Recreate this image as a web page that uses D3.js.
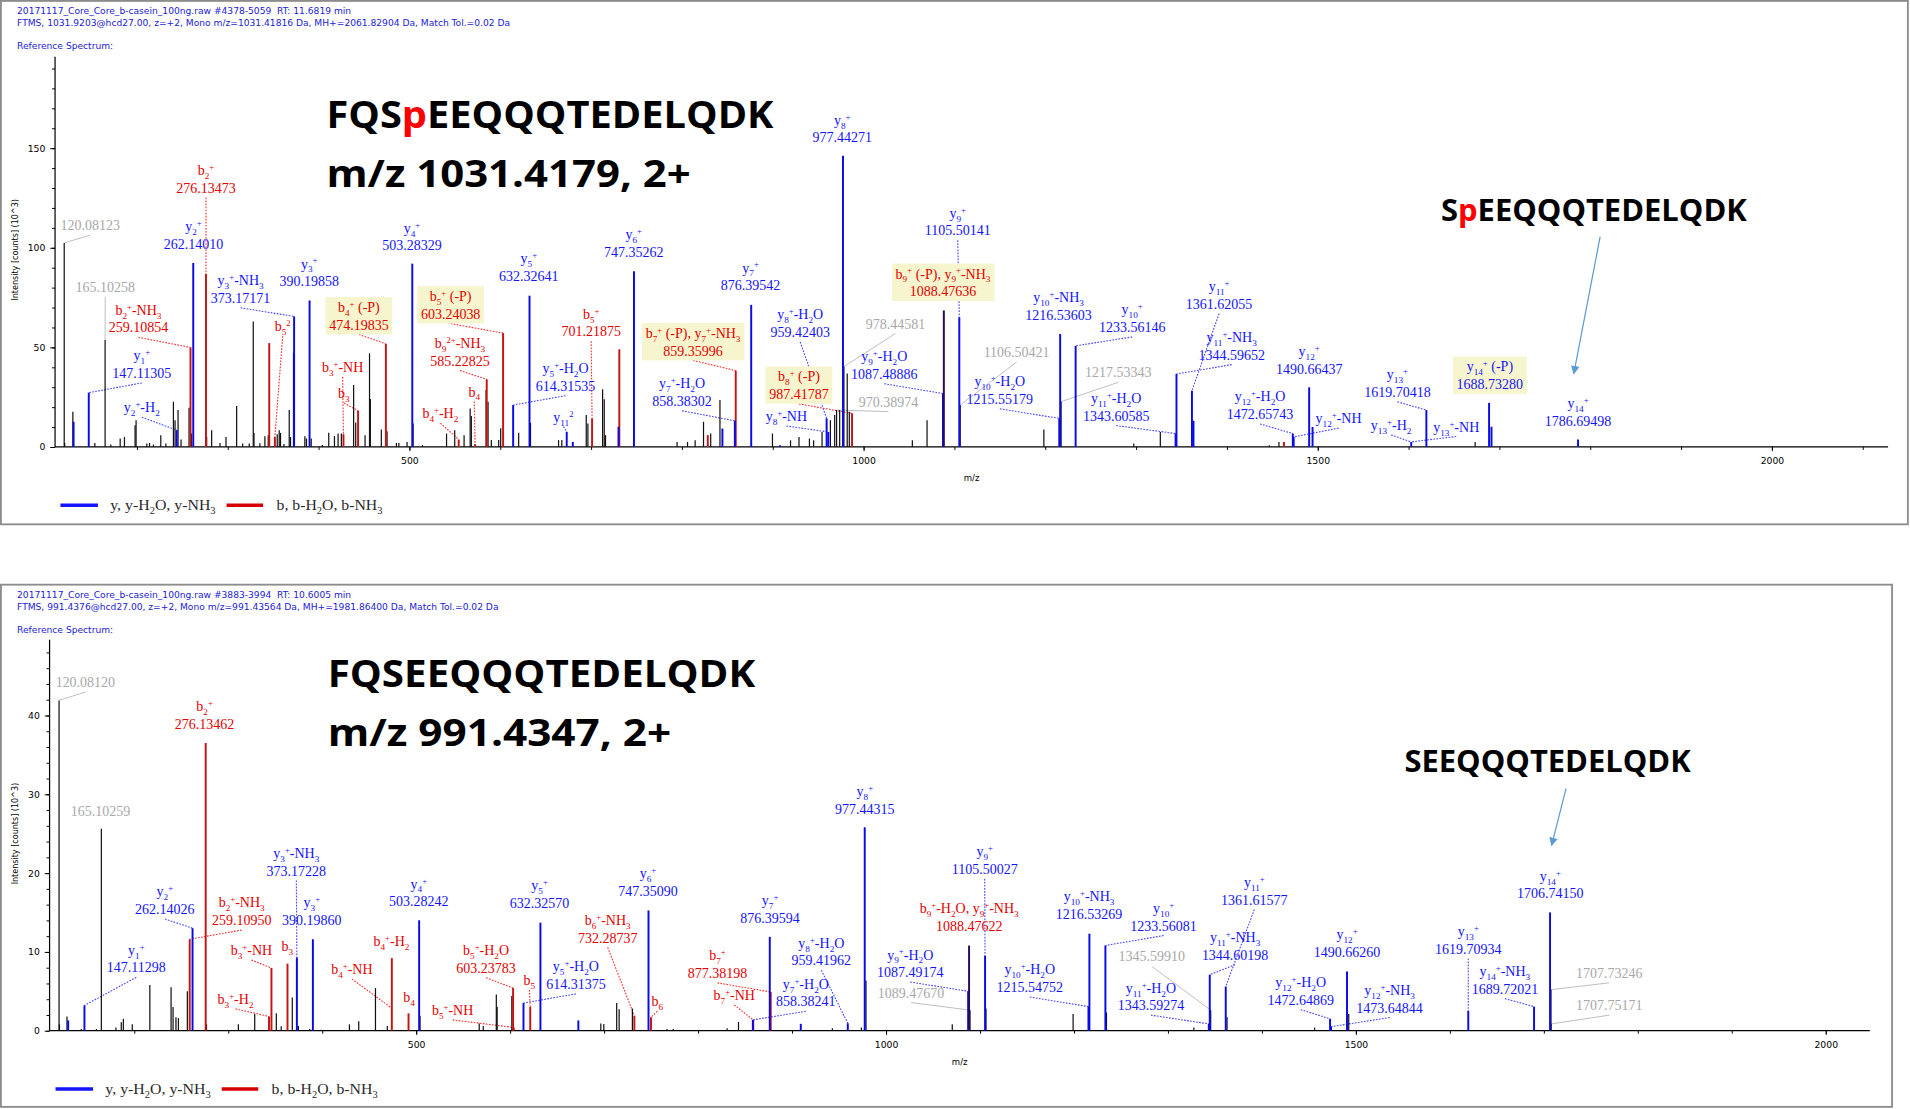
<!DOCTYPE html>
<html>
<head>
<meta charset="utf-8">
<script src="https://cdn.jsdelivr.net/npm/d3@7"></script>
<style>
  html, body { margin: 0; padding: 0; background: #fff; }
  svg { display: block; }
</style>
</head>
<body>
<svg id="chart"></svg>
<script>
// ---------- spectrum 1 : FQSpEEQQQTEDELQDK ----------
const p1Info = [
  "20171117_Core_Core_b-casein_100ng.raw #4378-5059  RT: 11.6819 min",
  "FTMS, 1031.9203@hcd27.00, z=+2, Mono m/z=1031.41816 Da, MH+=2061.82904 Da, Match Tol.=0.02 Da",
  "Reference Spectrum:"
];
// [m/z, intensity (10^3), ion]  y = y-series, b = b-series, x = b/y overlap, n = unassigned
const p1Peaks = [
  [120.08,102.4,'n'],[120.6,2.0,'n'],[129.6,17.6,'n'],[130.4,12.6,'y'],[147.11,27.2,'y'],[153.8,2.0,'n'],
  [165.10,53.7,'n'],[171.4,1.2,'n'],[181.7,4.2,'n'],[186.4,5.0,'n'],[198.1,10.9,'n'],[199.2,13.4,'n'],
  [211.0,1.7,'n'],[214.0,2.0,'n'],[218.3,1.2,'n'],[226.4,5.9,'n'],[232.0,1.7,'n'],[240.3,22.7,'n'],
  [242.1,13.4,'n'],[243.9,8.4,'y'],[245.4,18.5,'n'],[248.7,3.7,'n'],[257.5,19.6,'n'],[259.11,49.9,'b'],
  [260.2,6.7,'n'],[262.14,92.3,'y'],[276.13,86.9,'b'],[276.9,5.0,'n'],[282.4,8.4,'n'],[291.6,2.0,'n'],
  [298.2,5.0,'n'],[309.9,20.5,'n'],[316.5,1.7,'n'],[323.8,1.7,'n'],[328.2,62.9,'n'],[329.0,7.0,'n'],
  [335.5,1.8,'n'],[341.0,5.4,'n'],[344.7,5.9,'n'],[345.8,52.1,'b'],[352.0,5.0,'b'],[354.6,6.4,'n'],
  [356.8,8.4,'n'],[358.2,7.0,'n'],[362.0,1.5,'n'],[367.8,18.5,'n'],[369.2,5.0,'n'],[372.9,47.3,'y'],
  [373.17,65.5,'y'],[385.0,5.4,'n'],[386.8,4.2,'n'],[390.20,73.5,'y'],[392.0,4.2,'n'],[404.2,0.9,'n'],
  [411.3,7.1,'n'],[417.6,5.4,'n'],[421.6,6.7,'n'],[425.2,6.7,'n'],[427.5,6.4,'b'],[438.7,31.1,'n'],
  [441.0,12.3,'n'],[443.6,18.2,'b'],[451.3,5.9,'n'],[456.2,47.0,'n'],[457.1,24.1,'n'],[469.2,8.7,'n'],
  [474.20,51.7,'b'],[475.5,7.9,'n'],[485.8,2.0,'n'],[488.5,2.0,'n'],[497.5,2.4,'n'],[503.28,92.0,'y'],
  [504.2,11.8,'n'],[514.5,0.9,'n'],[541.0,6.7,'n'],[550.0,8.4,'n'],[554.4,3.7,'b'],[560.3,5.9,'n'],
  [567.0,19.3,'n'],[568.3,15.5,'n'],[572.4,1.4,'b'],[584.5,28.6,'n'],[585.23,33.9,'b'],[586.7,22.7,'n'],
  [590.3,3.4,'n'],[598.4,3.4,'n'],[600.6,9.3,'n'],[603.24,57.1,'b'],[614.32,21.0,'y'],[620.4,7.1,'n'],
  [632.33,75.9,'y'],[633.4,12.1,'n'],[664.3,3.4,'n'],[667.9,3.4,'n'],[673.3,7.6,'y'],[680.0,2.5,'y'],
  [694.8,16.0,'n'],[696.6,11.8,'n'],[701.22,14.3,'b'],[712.8,28.9,'n'],[714.6,23.9,'n'],[716.0,5.9,'n'],
  [730.3,10.1,'y'],[731.2,49.0,'b'],[747.35,88.2,'y'],[794.8,2.5,'n'],[806.3,2.5,'n'],[814.7,3.3,'n'],
  [823.9,12.6,'n'],[828.6,5.9,'b'],[831.8,6.7,'n'],[842.0,23.5,'n'],[844.7,9.2,'y'],[858.38,13.1,'y'],
  [859.36,38.3,'b'],[876.40,71.3,'y'],[899.8,6.7,'n'],[908.1,0.8,'y'],[919.7,3.3,'n'],[929.0,5.0,'n'],
  [940.5,4.2,'n'],[945.1,3.3,'n'],[954.4,7.5,'n'],[959.42,14.3,'y'],[961.3,7.5,'y'],[963.6,13.4,'n'],
  [968.3,16.0,'n'],[970.39,18.5,'n'],[973.8,18.5,'n'],[977.44,146.1,'y'],[978.45,40.3,'n'],[982.1,36.9,'n'],
  [984.4,17.6,'n'],[987.42,16.8,'b'],[1053.8,3.3,'n'],[1070.0,13.4,'n'],[1087.49,26.8,'y'],[1088.48,68.5,'x'],
  [1105.50,65.1,'y'],[1106.50,21.0,'n'],[1198.6,8.7,'n'],[1215.55,14.3,'y'],[1216.54,56.7,'y'],[1217.53,22.7,'n'],
  [1233.56,50.7,'y'],[1297.6,1.7,'n'],[1326.8,7.5,'n'],[1343.61,6.7,'y'],[1344.60,36.6,'y'],[1361.62,28.2,'y'],
  [1363.3,13.1,'y'],[1446.7,0.8,'n'],[1457.4,2.5,'n'],[1462.9,2.5,'b'],[1472.66,6.7,'y'],[1473.6,5.0,'y'],
  [1490.66,29.9,'y'],[1494.4,10.0,'y'],[1603.0,2.5,'y'],[1619.70,18.5,'y'],[1673.4,2.5,'n'],[1688.73,22.1,'y'],
  [1691.4,10.1,'y'],[1786.69,3.7,'y']
];
// [kind, ion name, m/z text, peak m/z, peak intensity, highlighted]
const p1Labels = [
  ['g','','120.08123',120.08,102.4,0],
  ['g','','165.10258',165.10,53.7,0],
  ['y','y_1^+','147.11305',147.11,27.2,0],
  ['y','y_2^+-H_2','',243.9,8.4,0],
  ['b','b_2^+-NH_3','259.10854',259.11,49.9,0],
  ['y','y_2^+','262.14010',262.14,92.3,0],
  ['b','b_2^+','276.13473',276.13,86.9,0],
  ['y','y_3^+-NH_3','373.17171',373.17,65.5,0],
  ['y','y_3^+','390.19858',390.20,73.5,0],
  ['b','b_5^2','',352.0,5.0,0],
  ['b','b_3^+-NH','',427.5,6.4,0],
  ['b','b_3','',443.6,18.2,0],
  ['b','b_4^+ (-P)','474.19835',474.20,51.7,1],
  ['y','y_4^+','503.28329',503.28,92.0,0],
  ['b','b_4^+-H_2','',554.4,3.7,0],
  ['b','b_4','',572.4,1.4,0],
  ['b','b_9^2+-NH_3','585.22825',585.23,33.9,0],
  ['b','b_5^+ (-P)','603.24038',603.24,57.1,1],
  ['y','y_5^+','632.32641',632.33,75.9,0],
  ['y','y_5^+-H_2O','614.31535',614.32,21.0,0],
  ['y','y_11^2','',673.3,7.6,0],
  ['b','b_5^+','701.21875',701.22,14.3,0],
  ['y','y_6^+','747.35262',747.35,88.2,0],
  ['y','y_7^+','876.39542',876.40,71.3,0],
  ['b','b_7^+ (-P), y_7^+-NH_3','859.35996',859.36,38.3,1],
  ['y','y_7^+-H_2O','858.38302',858.38,13.1,0],
  ['y','y_8^+','977.44271',977.44,146.1,0],
  ['y','y_8^+-H_2O','959.42403',959.42,14.3,0],
  ['y','y_8^+-NH','',961.3,7.5,0],
  ['b','b_8^+ (-P)','987.41787',987.42,16.8,1],
  ['g','','978.44581',978.45,40.3,0],
  ['g','','970.38974',970.39,18.5,0],
  ['y','y_9^+-H_2O','1087.48886',1087.49,26.8,0],
  ['b','b_9^+ (-P), y_9^+-NH_3','1088.47636',1088.48,68.5,1],
  ['y','y_9^+','1105.50141',1105.50,65.1,0],
  ['g','','1106.50421',1106.50,21.0,0],
  ['y','y_10^+-H_2O','1215.55179',1215.55,14.3,0],
  ['y','y_10^+-NH_3','1216.53603',1216.54,56.7,0],
  ['g','','1217.53343',1217.53,22.7,0],
  ['y','y_10^+','1233.56146',1233.56,50.7,0],
  ['y','y_11^+-H_2O','1343.60585',1343.61,6.7,0],
  ['y','y_11^+','1361.62055',1361.62,28.2,0],
  ['y','y_11^+-NH_3','1344.59652',1344.60,36.6,0],
  ['y','y_12^+-H_2O','1472.65743',1472.66,6.7,0],
  ['y','y_12^+-NH','',1473.6,5.0,0],
  ['y','y_12^+','1490.66437',1490.66,29.9,0],
  ['y','y_13^+-H_2','',1603.0,2.5,0],
  ['y','y_13^+','1619.70418',1619.70,18.5,0],
  ['y','y_13^+-NH','',1603.0,2.5,0],
  ['y','y_14^+ (-P)','1688.73280',1688.73,22.1,1],
  ['y','y_14^+','1786.69498',1786.69,3.7,0]
];
// label anchor in data units [m/z, intensity, leader line]
const p1LabelAt = [
  [148.7,111.2,1],[165.2,80.3,1],[205.5,37.0,1],[205.5,19.8,1],[201.8,59.9,1],[262.3,101.9,0],
  [276.2,130.1,1],[314.3,74.7,1],[389.8,83.1,0],[360.6,60.5,1],[426.6,40.0,1],[428.0,26.9,1],
  [444.5,61.3,1],[502.9,101.1,0],[534.2,16.8,1],[571.5,27.7,1],[555.8,43.2,1],[545.5,66.8,1],
  [631.6,85.7,0],[672.0,30.6,1],[669.7,15.1,1],[700.2,57.9,1],[747.1,97.7,0],[875.7,81.1,0],
  [812.4,48.3,1],[800.3,23.0,1],[976.6,155.3,0],[930.3,57.6,1],[915.1,15.4,1],[929.0,26.5,1],
  [1035.3,61.8,1],[1027.5,22.6,1],[1022.9,36.6,1],[1087.6,78.1,0],[1103.8,108.6,1],[1168.6,47.5,1],
  [1150.1,24.0,1],[1214.8,66.3,0],[1280.5,37.3,1],[1295.8,60.1,1],[1278.2,15.6,1],[1391.5,71.8,1],
  [1405.4,46.2,1],[1436.6,16.4,1],[1523.0,14.3,1],[1490.7,39.1,0],[1580.9,10.9,1],[1587.8,27.5,1],
  [1652.6,10.1,1],[1689.6,31.5,0],[1786.7,13.1,0]
];
const p1Arrow = [[1811, 105.5], [1782, 36.8]];

// ---------- spectrum 2 : FQSEEQQQTEDELQDK ----------
const p2Info = [
  "20171117_Core_Core_b-casein_100ng.raw #3883-3994  RT: 10.6005 min",
  "FTMS, 991.4376@hcd27.00, z=+2, Mono m/z=991.43564 Da, MH+=1981.86400 Da, Match Tol.=0.02 Da",
  "Reference Spectrum:"
];
const p2Peaks = [
  [120.08,41.9,'n'],[120.5,0.8,'n'],[128.5,1.8,'n'],[129.8,1.3,'y'],[143.7,0.2,'n'],[147.11,3.2,'y'],
  [159.8,0.2,'n'],[165.10,25.6,'n'],[180.6,0.4,'n'],[186.3,1.05,'n'],[188.5,1.5,'n'],[198.0,0.8,'n'],
  [216.7,5.8,'n'],[239.3,5.5,'n'],[241.4,3.0,'n'],[244.5,1.7,'n'],[247.1,1.6,'n'],[256.6,5.0,'n'],
  [259.11,11.6,'b'],[262.14,13.0,'y'],[276.13,36.5,'b'],[277.0,0.8,'n'],[310.9,0.8,'n'],[328.3,2.1,'n'],
  [343.5,1.8,'b'],[346.1,7.95,'b'],[351.3,2.2,'n'],[356.5,0.55,'n'],[363.17,8.5,'b'],[368.3,4.2,'n'],
  [373.17,9.3,'y'],[374.8,0.6,'n'],[386.9,0.2,'n'],[390.20,11.6,'y'],[399.1,0.1,'n'],[429.1,0.8,'n'],
  [439.0,1.2,'n'],[456.8,5.4,'n'],[469.4,0.6,'n'],[474.2,9.2,'b'],[492.0,2.2,'b'],[503.28,14.0,'y'],
  [504.2,1.9,'n'],[567.2,0.9,'n'],[571.5,0.6,'n'],[585.4,4.6,'n'],[586.3,3.0,'n'],[601.9,4.4,'n'],
  [603.24,5.4,'b'],[604.0,0.4,'b'],[614.31,3.5,'y'],[621.5,3.0,'b'],[632.33,13.7,'y'],[672.7,1.3,'y'],
  [696.6,0.9,'n'],[699.8,0.85,'n'],[713.5,3.5,'n'],[716.1,2.7,'n'],[730.2,2.8,'n'],[732.29,1.9,'b'],
  [747.35,15.25,'y'],[750.0,1.7,'b'],[767.0,0.2,'n'],[773.7,0.2,'n'],[831.0,0.3,'n'],[843.1,1.1,'n'],
  [858.38,1.36,'y'],[858.8,1.36,'b'],[876.40,11.9,'y'],[877.38,4.9,'b'],[909.4,0.86,'y'],[943.0,0.3,'n'],
  [959.42,0.94,'y'],[973.9,0.4,'n'],[977.44,25.8,'y'],[978.8,6.36,'n'],[1070.6,0.8,'n'],[1087.49,5.0,'y'],
  [1088.48,10.8,'x'],[1089.48,2.6,'n'],[1105.50,9.5,'y'],[1106.5,2.8,'n'],[1199.2,2.1,'n'],[1215.55,3.05,'y'],
  [1216.53,12.3,'y'],[1233.56,10.8,'y'],[1234.7,2.3,'n'],[1327.7,0.4,'n'],[1345.60,2.6,'n'],[1343.59,0.86,'y'],
  [1344.60,7.1,'y'],[1361.62,5.6,'y'],[1363.0,1.7,'n'],[1456.2,0.4,'n'],[1472.65,1.5,'y'],[1473.65,0.5,'y'],
  [1490.66,7.5,'y'],[1492.5,2.1,'n'],[1619.71,2.5,'y'],[1689.72,3.05,'y'],[1706.74,15.0,'y'],[1707.73,5.2,'n'],
  [1707.75,0.85,'n']
];
const p2Labels = [
  ['g','','120.08120',120.08,41.9,0],
  ['g','','165.10259',165.10,25.6,0],
  ['y','y_1^+','147.11298',147.11,3.2,0],
  ['y','y_2^+','262.14026',262.14,13.0,0],
  ['b','b_2^+-NH_3','259.10950',259.11,11.6,0],
  ['b','b_2^+','276.13462',276.13,36.5,0],
  ['y','y_3^+-NH_3','373.17228',373.17,9.3,0],
  ['y','y_3^+','390.19860',390.20,11.6,0],
  ['b','b_3^+-NH','',346.1,7.95,0],
  ['b','b_3','',363.17,8.5,0],
  ['b','b_3^+-H_2','',343.5,1.8,0],
  ['y','y_4^+','503.28242',503.28,14.0,0],
  ['b','b_4^+-H_2','',474.2,9.2,0],
  ['b','b_4^+-NH','',474.6,2.8,0],
  ['b','b_4','',492.0,2.2,0],
  ['b','b_5^+-H_2O','603.23783',603.24,5.4,0],
  ['b','b_5^+-NH','',604.0,0.4,0],
  ['b','b_5','',621.5,3.0,0],
  ['y','y_5^+','632.32570',632.33,13.7,0],
  ['y','y_5^+-H_2O','614.31375',614.31,3.5,0],
  ['b','b_6^+-NH_3','732.28737',732.29,1.9,0],
  ['y','y_6^+','747.35090',747.35,15.25,0],
  ['b','b_6','',750.0,1.7,0],
  ['b','b_7^+','877.38198',877.38,4.9,0],
  ['b','b_7^+-NH','',858.8,1.36,0],
  ['y','y_7^+','876.39594',876.40,11.9,0],
  ['y','y_7^+-H_2O','858.38241',858.38,1.36,0],
  ['y','y_8^+-H_2O','959.41962',959.42,0.94,0],
  ['y','y_8^+','977.44315',977.44,25.8,0],
  ['y','y_9^+-H_2O','1087.49174',1087.49,5.0,0],
  ['g','','1089.47670',1089.48,2.6,0],
  ['b','b_9^+-H_2O, y_9^+-NH_3','1088.47622',1088.48,10.8,0],
  ['y','y_9^+','1105.50027',1105.50,9.5,0],
  ['y','y_10^+-H_2O','1215.54752',1215.55,3.05,0],
  ['y','y_10^+-NH_3','1216.53269',1216.53,12.3,0],
  ['y','y_10^+','1233.56081',1233.56,10.8,0],
  ['g','','1345.59910',1345.60,2.6,0],
  ['y','y_11^+-H_2O','1343.59274',1343.59,0.86,0],
  ['y','y_11^+-NH_3','1344.60198',1344.60,7.1,0],
  ['y','y_11^+','1361.61577',1361.62,5.6,0],
  ['y','y_12^+-H_2O','1472.64869',1472.65,1.5,0],
  ['y','y_12^+','1490.66260',1490.66,7.5,0],
  ['y','y_12^+-NH_3','1473.64844',1473.65,0.5,0],
  ['y','y_13^+','1619.70934',1619.71,2.5,0],
  ['y','y_14^+-NH_3','1689.72021',1689.72,3.05,0],
  ['y','y_14^+','1706.74150',1706.74,15.0,0],
  ['g','','1707.73246',1707.73,5.2,0],
  ['g','','1707.75171',1707.75,0.85,0]
];
const p2LabelAt = [
  [148.1,44.2,1],[164.1,27.8,0],[202.3,8.0,1],[232.7,15.4,1],[314.4,14.0,1],[274.9,38.9,0],
  [372.6,20.3,1],[389.1,14.0,0],[324.8,10.2,1],[363.0,10.7,0],[307.9,4.0,1],[502.9,16.4,0],
  [473.8,11.4,0],[431.7,7.8,1],[492.5,4.3,0],[574.5,7.95,1],[538.9,2.6,1],[620.6,6.4,1],
  [631.4,16.2,0],[670.1,5.9,1],[703.9,11.8,1],[746.8,17.7,0],[756.7,3.7,1],[820.7,7.3,1],
  [838.6,4.5,1],[876.7,14.3,0],[914.8,3.7,1],[931.3,8.9,1],[977.5,28.1,0],[1025.9,7.4,1],
  [1026.7,4.8,1],[1088.6,13.3,0],[1105.1,20.5,1],[1153.1,5.5,1],[1216.2,14.8,0],[1295.5,13.3,1],
  [1282.9,9.4,1],[1282.0,3.2,1],[1371.6,9.6,1],[1392.0,16.6,1],[1441.4,3.9,1],[1490.7,9.96,0],
  [1536.0,2.9,1],[1619.7,10.4,1],[1658.7,5.3,1],[1707.0,17.4,0],[1769.8,7.3,1],[1769.8,3.2,1]
];
const p2Arrow = [[1723.7, 30.7], [1708.4, 23.5]];

// ---------- drawing ----------
const W = 1568, H = 910;
const svg = d3.select("#chart")
  .attr("width", 1910).attr("height", 1109)
  .attr("viewBox", `0 0 ${W} ${H}`)
  .attr("preserveAspectRatio", "none");

const peakColor = {y: "#0a0ae6", b: "#c41414", x: "#2a0a52", n: "#111111"};
const labelColor = {y: "#1414ff", b: "#e60000", g: "#a8a8a8"};
const leaderColor = {y: "#4646ff", b: "#ff3030", g: "#bdbdbd"};
const serif = "'Liberation Serif', 'Times New Roman', serif";
const sans = "'DejaVu Sans', Verdana, sans-serif";

const defs = svg.append("defs");
defs.append("marker")
  .attr("id", "arrowHead")
  .attr("viewBox", "0 0 10 10")
  .attr("refX", 9).attr("refY", 5)
  .attr("markerWidth", 7).attr("markerHeight", 7)
  .attr("markerUnits", "userSpaceOnUse")
  .attr("orient", "auto")
  .append("path").attr("d", "M0,0 L10,5 L0,10 z").attr("fill", "#5b9bd5");

// ion names like y_10^+-H_2O -> subscripts / superscripts
function richText(textSel, str, fs) {
  const re = /_(\d+)|\^(\d*\+?)|([^_^]+)/g;
  let m, shift = 0;
  while ((m = re.exec(str)) !== null) {
    let txt, target, size;
    if (m[1] !== undefined) { txt = m[1]; target = fs * 0.28; size = fs * 0.66; }
    else if (m[2] !== undefined) { txt = m[2]; target = -fs * 0.36; size = fs * 0.62; }
    else { txt = m[3]; target = 0; size = fs; }
    textSel.append("tspan")
      .attr("dy", target - shift)
      .style("font-size", size + "px")
      .text(txt);
    shift = target;
  }
}

function drawPanel(c) {
  const top = c.top;
  const g = svg.append("g");

  // frame
  g.append("rect")
    .attr("x", 0.75).attr("y", top + 0.75)
    .attr("width", c.boxW - 1.5).attr("height", c.boxH - 1.5)
    .attr("fill", "none").attr("stroke", "#8c8c8c").attr("stroke-width", 1.5);

  // header lines
  [11.4, 21.4, 40.2].forEach((dy, i) => {
    g.append("text")
      .attr("x", 14).attr("y", top + dy)
      .style("font-family", sans).style("font-size", "7.5px")
      .style("white-space", "pre")
      .attr("fill", "#1c1cd8")
      .text(c.info[i]);
  });

  const x = d3.scaleLinear().domain(c.mzDomain).range([c.x0, c.x1]);
  const y = d3.scaleLinear().domain([0, c.yRef]).range([top + 366.7, top + c.yRefPx]);

  // y axis
  const yMinor = d3.range(0, c.yMax + 0.001, c.yStep);
  const yMajor = yMinor.filter(v => Math.abs(v % c.yLabelStep) < 1e-6);
  const yAxisG = g.append("g").attr("transform", `translate(${c.x0},0)`);
  yAxisG.append("g").call(d3.axisLeft(y).tickValues(yMinor).tickSize(2.5).tickFormat(""))
    .call(a => a.select(".domain").remove());
  yAxisG.append("g").call(d3.axisLeft(y).tickValues(yMajor).tickSize(4).tickPadding(4).tickFormat(d3.format("d")))
    .call(a => a.select(".domain").remove());
  yAxisG.append("line")
    .attr("x1", 0).attr("x2", 0)
    .attr("y1", y(0)).attr("y2", top + c.yTopPx)
    .attr("stroke", "#000").attr("stroke-width", 1);

  // x axis
  const xMinor = d3.range(200, c.mzDomain[1], 100);
  const xAxisG = g.append("g").attr("transform", `translate(0,${y(0)})`);
  xAxisG.append("g").call(d3.axisBottom(x).tickValues(xMinor).tickSize(2.5).tickFormat(""))
    .call(a => a.select(".domain").remove());
  xAxisG.append("g").call(d3.axisBottom(x).tickValues([500, 1000, 1500, 2000]).tickSize(3.5).tickPadding(5.5).tickFormat(d3.format("d")))
    .call(a => a.select(".domain").remove());
  xAxisG.append("line")
    .attr("x1", c.x0).attr("x2", c.x1).attr("y1", 0).attr("y2", 0)
    .attr("stroke", "#000").attr("stroke-width", 1);

  g.selectAll(".tick text")
    .style("font-family", sans).style("font-size", "7.6px").attr("fill", "#000");
  g.selectAll(".tick line").attr("stroke", "#000").attr("stroke-width", 0.8);

  g.append("text")
    .attr("x", (c.x0 + c.x1) / 2).attr("y", top + 394.6)
    .attr("text-anchor", "middle")
    .style("font-family", sans).style("font-size", "7px")
    .text("m/z");

  g.append("text")
    .attr("transform", `translate(15,${top + 205}) rotate(-90)`)
    .attr("text-anchor", "middle")
    .style("font-family", sans).style("font-size", "6.6px")
    .text("Intensity [counts] (10^3)");

  // leader lines
  const leaders = g.append("g");
  c.labels.forEach((d, i) => {
    const at = c.labelAt[i];
    if (!at[2]) return;
    const lx = x(at[0]), ly = y(at[1]);
    leaders.append("line")
      .attr("x1", lx).attr("y1", ly + 8)
      .attr("x2", x(d[3])).attr("y2", y(d[4]))
      .attr("stroke", leaderColor[d[0]])
      .attr("stroke-width", d[0] === "g" ? 0.8 : 0.9)
      .attr("stroke-dasharray", d[0] === "g" ? null : "1.4,1.1");
  });

  // peaks: unassigned first, coloured on top
  const order = {n: 0, b: 1, y: 2, x: 3};
  const peaks = c.peaks.slice().sort((a, b) => order[a[2]] - order[b[2]]);
  g.append("g").selectAll("line")
    .data(peaks)
    .join("line")
    .attr("x1", d => x(d[0])).attr("x2", d => x(d[0]))
    .attr("y1", y(0)).attr("y2", d => y(d[1]))
    .attr("stroke", d => peakColor[d[2]])
    .attr("stroke-width", d => d[2] === "n" ? 1.0 : 1.6);

  // labels
  const labG = g.append("g");
  c.labels.forEach((d, i) => {
    const at = c.labelAt[i];
    const lx = x(at[0]), ly = y(at[1]);
    const lg = labG.append("g");
    const fs = 11.5;
    if (d[1]) {
      const nameY = d[2] ? ly - 14.5 : ly;
      const t = lg.append("text")
        .attr("x", lx).attr("y", nameY + 4)
        .attr("text-anchor", "middle")
        .style("font-family", serif).style("font-size", fs + "px")
        .attr("fill", labelColor[d[0]]);
      richText(t, d[1], fs);
    }
    if (d[2]) {
      lg.append("text")
        .attr("x", lx).attr("y", ly + 4)
        .attr("text-anchor", "middle")
        .style("font-family", serif).style("font-size", fs + "px")
        .attr("fill", labelColor[d[0]])
        .text(d[2]);
    }
    if (d[5]) {
      const bb = lg.node().getBBox();
      lg.insert("rect", ":first-child")
        .attr("x", bb.x - 3).attr("y", bb.y - 1.5)
        .attr("width", bb.width + 6).attr("height", bb.height + 3)
        .attr("fill", "#f7f5cd");
    }
  });

  // legend
  const legend = g.append("g").attr("transform", `translate(${c.legendDx},${top + 414.6})`);
  legend.append("line").attr("x1", 49.6).attr("x2", 80.4).attr("y1", 0).attr("y2", 0)
    .attr("stroke", "#1414ff").attr("stroke-width", 3);
  const lt1 = legend.append("text").attr("x", 90.5).attr("y", 4)
    .attr("textLength", 86.5).attr("lengthAdjust", "spacingAndGlyphs")
    .style("font-family", serif).style("font-size", "12.2px").attr("fill", "#2a2a2a");
  richText(lt1, "y, y-H_2O, y-NH_3", 12.2);
  legend.append("line").attr("x1", 186).attr("x2", 216).attr("y1", 0).attr("y2", 0)
    .attr("stroke", "#d40000").attr("stroke-width", 3);
  const lt2 = legend.append("text").attr("x", 227).attr("y", 4)
    .attr("textLength", 87).attr("lengthAdjust", "spacingAndGlyphs")
    .style("font-family", serif).style("font-size", "12.2px").attr("fill", "#2a2a2a");
  richText(lt2, "b, b-H_2O, b-NH_3", 12.2);

  // peptide titles
  const big = g.append("text")
    .attr("x", c.title.x).attr("y", top + c.title.y1)
    .attr("textLength", c.title.len1).attr("lengthAdjust", "spacingAndGlyphs")
    .style("font-family", "'Open Sans', 'Noto Sans', sans-serif")
    .style("font-weight", 700).style("font-size", "31px").attr("fill", "#000");
  c.title.seq.forEach(s => big.append("tspan").attr("fill", s[1]).text(s[0]));
  g.append("text")
    .attr("x", c.title.x).attr("y", top + c.title.y2)
    .attr("textLength", c.title.len2).attr("lengthAdjust", "spacingAndGlyphs")
    .style("font-family", "'Open Sans', 'Noto Sans', sans-serif")
    .style("font-weight", 700).style("font-size", "31px").attr("fill", "#000")
    .text(c.title.mz);

  const side = g.append("text")
    .attr("x", c.side.x).attr("y", top + c.side.y)
    .attr("textLength", c.side.len).attr("lengthAdjust", "spacingAndGlyphs")
    .style("font-family", "'Open Sans', 'Noto Sans', sans-serif")
    .style("font-weight", 700).style("font-size", "25.5px").attr("fill", "#000");
  c.side.seq.forEach(s => side.append("tspan").attr("fill", s[1]).text(s[0]));

  g.append("line")
    .attr("x1", x(c.arrow[0][0])).attr("y1", y(c.arrow[0][1]))
    .attr("x2", x(c.arrow[1][0])).attr("y2", y(c.arrow[1][1]))
    .attr("stroke", "#5b9bd5").attr("stroke-width", 1)
    .attr("marker-end", "url(#arrowHead)");
}

drawPanel({
  top: 0, boxW: 1567, boxH: 431,
  info: p1Info, peaks: p1Peaks, labels: p1Labels, labelAt: p1LabelAt, arrow: p1Arrow,
  mzDomain: [110, 2128], x0: 45.2, x1: 1550,
  yRef: 150, yRefPx: 121.5, yTopPx: 46.5, yMax: 190, yStep: 10, yLabelStep: 50,
  legendDx: 0,
  title: {x: 268, y1: 105, y2: 153.5, len1: 367, len2: 299,
          seq: [["FQS", "#000"], ["p", "#ff0000"], ["EEQQQTEDELQDK", "#000"]],
          mz: "m/z 1031.4179, 2+"},
  side: {x: 1183, y: 181.2, len: 251,
         seq: [["S", "#000"], ["p", "#ff0000"], ["EEQQQTEDELQDK", "#000"]]}
});

drawPanel({
  top: 479, boxW: 1554, boxH: 430,
  info: p2Info, peaks: p2Peaks, labels: p2Labels, labelAt: p2LabelAt, arrow: p2Arrow,
  mzDomain: [110, 2047], x0: 40.7, x1: 1535,
  yRef: 40, yRefPx: 108, yTopPx: 45.9, yMax: 48, yStep: 2, yLabelStep: 10,
  legendDx: -4,
  title: {x: 269, y1: 85, y2: 133, len1: 351, len2: 282,
          seq: [["FQSEEQQQTEDELQDK", "#000"]],
          mz: "m/z 991.4347, 2+"},
  side: {x: 1153, y: 154.5, len: 235,
         seq: [["SEEQQQTEDELQDK", "#000"]]}
});
</script>
</body>
</html>
